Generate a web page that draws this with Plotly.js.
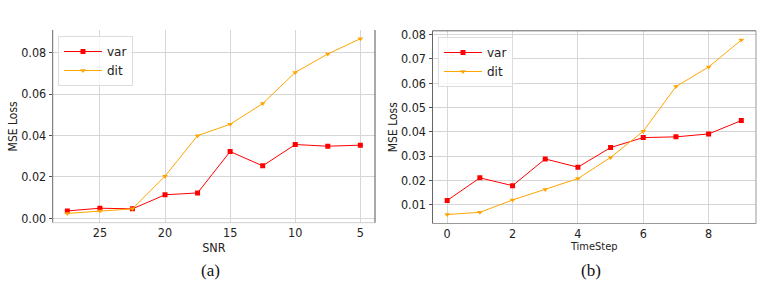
<!DOCTYPE html>
<html>
<head>
<meta charset="utf-8">
<script src="https://cdn.plot.ly/plotly-3.0.1.min.js"></script>
<style>html,body{margin:0;padding:0;background:#fff;}#chart{width:762px;height:284px;}</style>
</head>
<body>
<div id="chart"></div>
<script>
// (a) MSE loss vs SNR
const snr = [27.5, 25, 22.5, 20, 17.5, 15, 12.5, 10, 7.5, 5];
const varSnr = [0.0035, 0.0048, 0.0045, 0.0113, 0.0122, 0.0322, 0.0253, 0.0356, 0.0348, 0.0353];
const ditSnr = [0.0023, 0.0034, 0.0045, 0.0203, 0.0399, 0.0454, 0.0554, 0.0705, 0.0794, 0.0868];
const snrTicks = [25, 20, 15, 10, 5];

// (b) MSE loss vs TimeStep
const timeStep = [0, 1, 2, 3, 4, 5, 6, 7, 8, 9];
const varTime = [0.0117, 0.0210, 0.0178, 0.0288, 0.0254, 0.0335, 0.0376, 0.0379, 0.0391, 0.0446];
const ditTime = [0.0059, 0.0068, 0.0119, 0.0162, 0.0207, 0.0294, 0.0402, 0.0586, 0.0667, 0.0778];

const seriesNames = ['var', 'dit'];
const captions = ['(a)', '(b)'];

const RED = '#ff0000', ORANGE = '#ffa500';
const W = 762, H = 284;
const FAM = 'DejaVu Sans Condensed, DejaVu Sans, sans-serif';
const font = {family: FAM, size: 12.5, color: '#222'};

function tr(x, y, name, color, sym, size, xa, ya, leg) {
  return {x: x, y: y, name: name, type: 'scatter', mode: 'lines+markers',
    line: {color: color, width: 1}, marker: {color: color, symbol: sym, size: size},
    xaxis: xa, yaxis: ya, legend: leg, showlegend: true};
}

const data = [
  tr(snr, varSnr, seriesNames[0], RED, 'square', 5, 'x', 'y', 'legend'),
  tr(snr, ditSnr, seriesNames[1], ORANGE, 'triangle-down', 5, 'x', 'y', 'legend'),
  tr(timeStep, varTime, seriesNames[0], RED, 'square', 5, 'x2', 'y2', 'legend2'),
  tr(timeStep, ditTime, seriesNames[1], ORANGE, 'triangle-down', 5, 'x2', 'y2', 'legend2')
];

const grid = '#d6d6d6';
const px = v => v / W, py = v => 1 - v / H;

const axBase = {showgrid: true, gridcolor: grid, gridwidth: 1, zeroline: false, showline: false,
  ticks: 'outside', ticklen: 3, tickcolor: '#555', tickfont: font};
const xBase = Object.assign({}, axBase, {ticklen: 1, tickcolor: 'rgba(0,0,0,0)', ticklabelstandoff: -3});

function spine(xref, yref, x0, y0, x1, y1, color) {
  return {type: 'line', xref: xref, yref: yref, x0: x0, y0: y0, x1: x1, y1: y1,
    line: {color: color, width: 1}, layer: 'above'};
}
const titleFont = s => ({family: FAM, size: s, color: '#222'});
const legFont = {family: 'DejaVu Sans, sans-serif', size: 12, color: '#222'};

const layout = {
  width: W, height: H,
  margin: {l: 0, r: 0, t: 0, b: 0},
  paper_bgcolor: '#fff', plot_bgcolor: '#fff',
  font: font,
  xaxis: Object.assign({}, xBase, {domain: [px(52.7), px(375)], range: [28.625, 3.875],
    tickvals: snrTicks, anchor: 'y',
    title: {text: 'SNR', font: titleFont(12.5), standoff: 1}}),
  yaxis: Object.assign({}, axBase, {domain: [py(222.7), py(30)], range: [-0.0022, 0.0910],
    tickvals: [0, 0.02, 0.04, 0.06, 0.08], tickformat: '.2f', anchor: 'x',
    title: {text: 'MSE Loss', font: titleFont(12), standoff: 0}}),
  xaxis2: Object.assign({}, xBase, {domain: [px(432.5), px(756)], range: [-0.45, 9.45],
    tickvals: [0, 2, 4, 6, 8], anchor: 'y2',
    title: {text: 'TimeStep', font: titleFont(11), standoff: 0}}),
  yaxis2: Object.assign({}, axBase, {domain: [py(223.5), py(30.8)], range: [0.0022, 0.0816],
    tickvals: [0.01, 0.02, 0.03, 0.04, 0.05, 0.06, 0.07, 0.08], tickformat: '.2f', anchor: 'x2',
    title: {text: 'MSE Loss', font: titleFont(12), standoff: 0}}),
  legend: {x: px(58), y: py(36), xanchor: 'left', yanchor: 'top', bgcolor: 'rgba(255,255,255,0.8)',
    bordercolor: '#dcdcdc', borderwidth: 1, font: legFont, tracegroupgap: 0, itemwidth: 38},
  legend2: {x: px(438), y: py(37), xanchor: 'left', yanchor: 'top', bgcolor: 'rgba(255,255,255,0.8)',
    bordercolor: '#dcdcdc', borderwidth: 1, font: legFont, tracegroupgap: 0, itemwidth: 38},
  shapes: [
    spine('x domain', 'y domain', 0, 0, 0, 1, '#666'),
    spine('x domain', 'y domain', 0, 0, 1, 0, '#cfcfcf'),
    spine('x domain', 'y domain', 1, 0, 1, 1, '#555'),
    spine('x2 domain', 'y2 domain', 0, 0, 0, 1, '#666'),
    spine('x2 domain', 'y2 domain', 0, 0, 1, 0, '#999'),
    spine('x2 domain', 'y2 domain', 1, 0, 1, 1, '#999'),
    spine('x2 domain', 'y2 domain', 0, 1, 1, 1, '#666')
  ],
  annotations: [
    {text: captions[0], xref: 'paper', yref: 'paper', x: px(210.7), y: py(270), xanchor: 'center', yanchor: 'middle',
      showarrow: false, font: {family: 'Liberation Serif, serif', size: 17, color: '#111'}},
    {text: captions[1], xref: 'paper', yref: 'paper', x: px(590.7), y: py(270), xanchor: 'center', yanchor: 'middle',
      showarrow: false, font: {family: 'Liberation Serif, serif', size: 17, color: '#111'}}
  ]
};

Plotly.newPlot('chart', data, layout, {displayModeBar: false, staticPlot: true});
</script>
</body>
</html>
